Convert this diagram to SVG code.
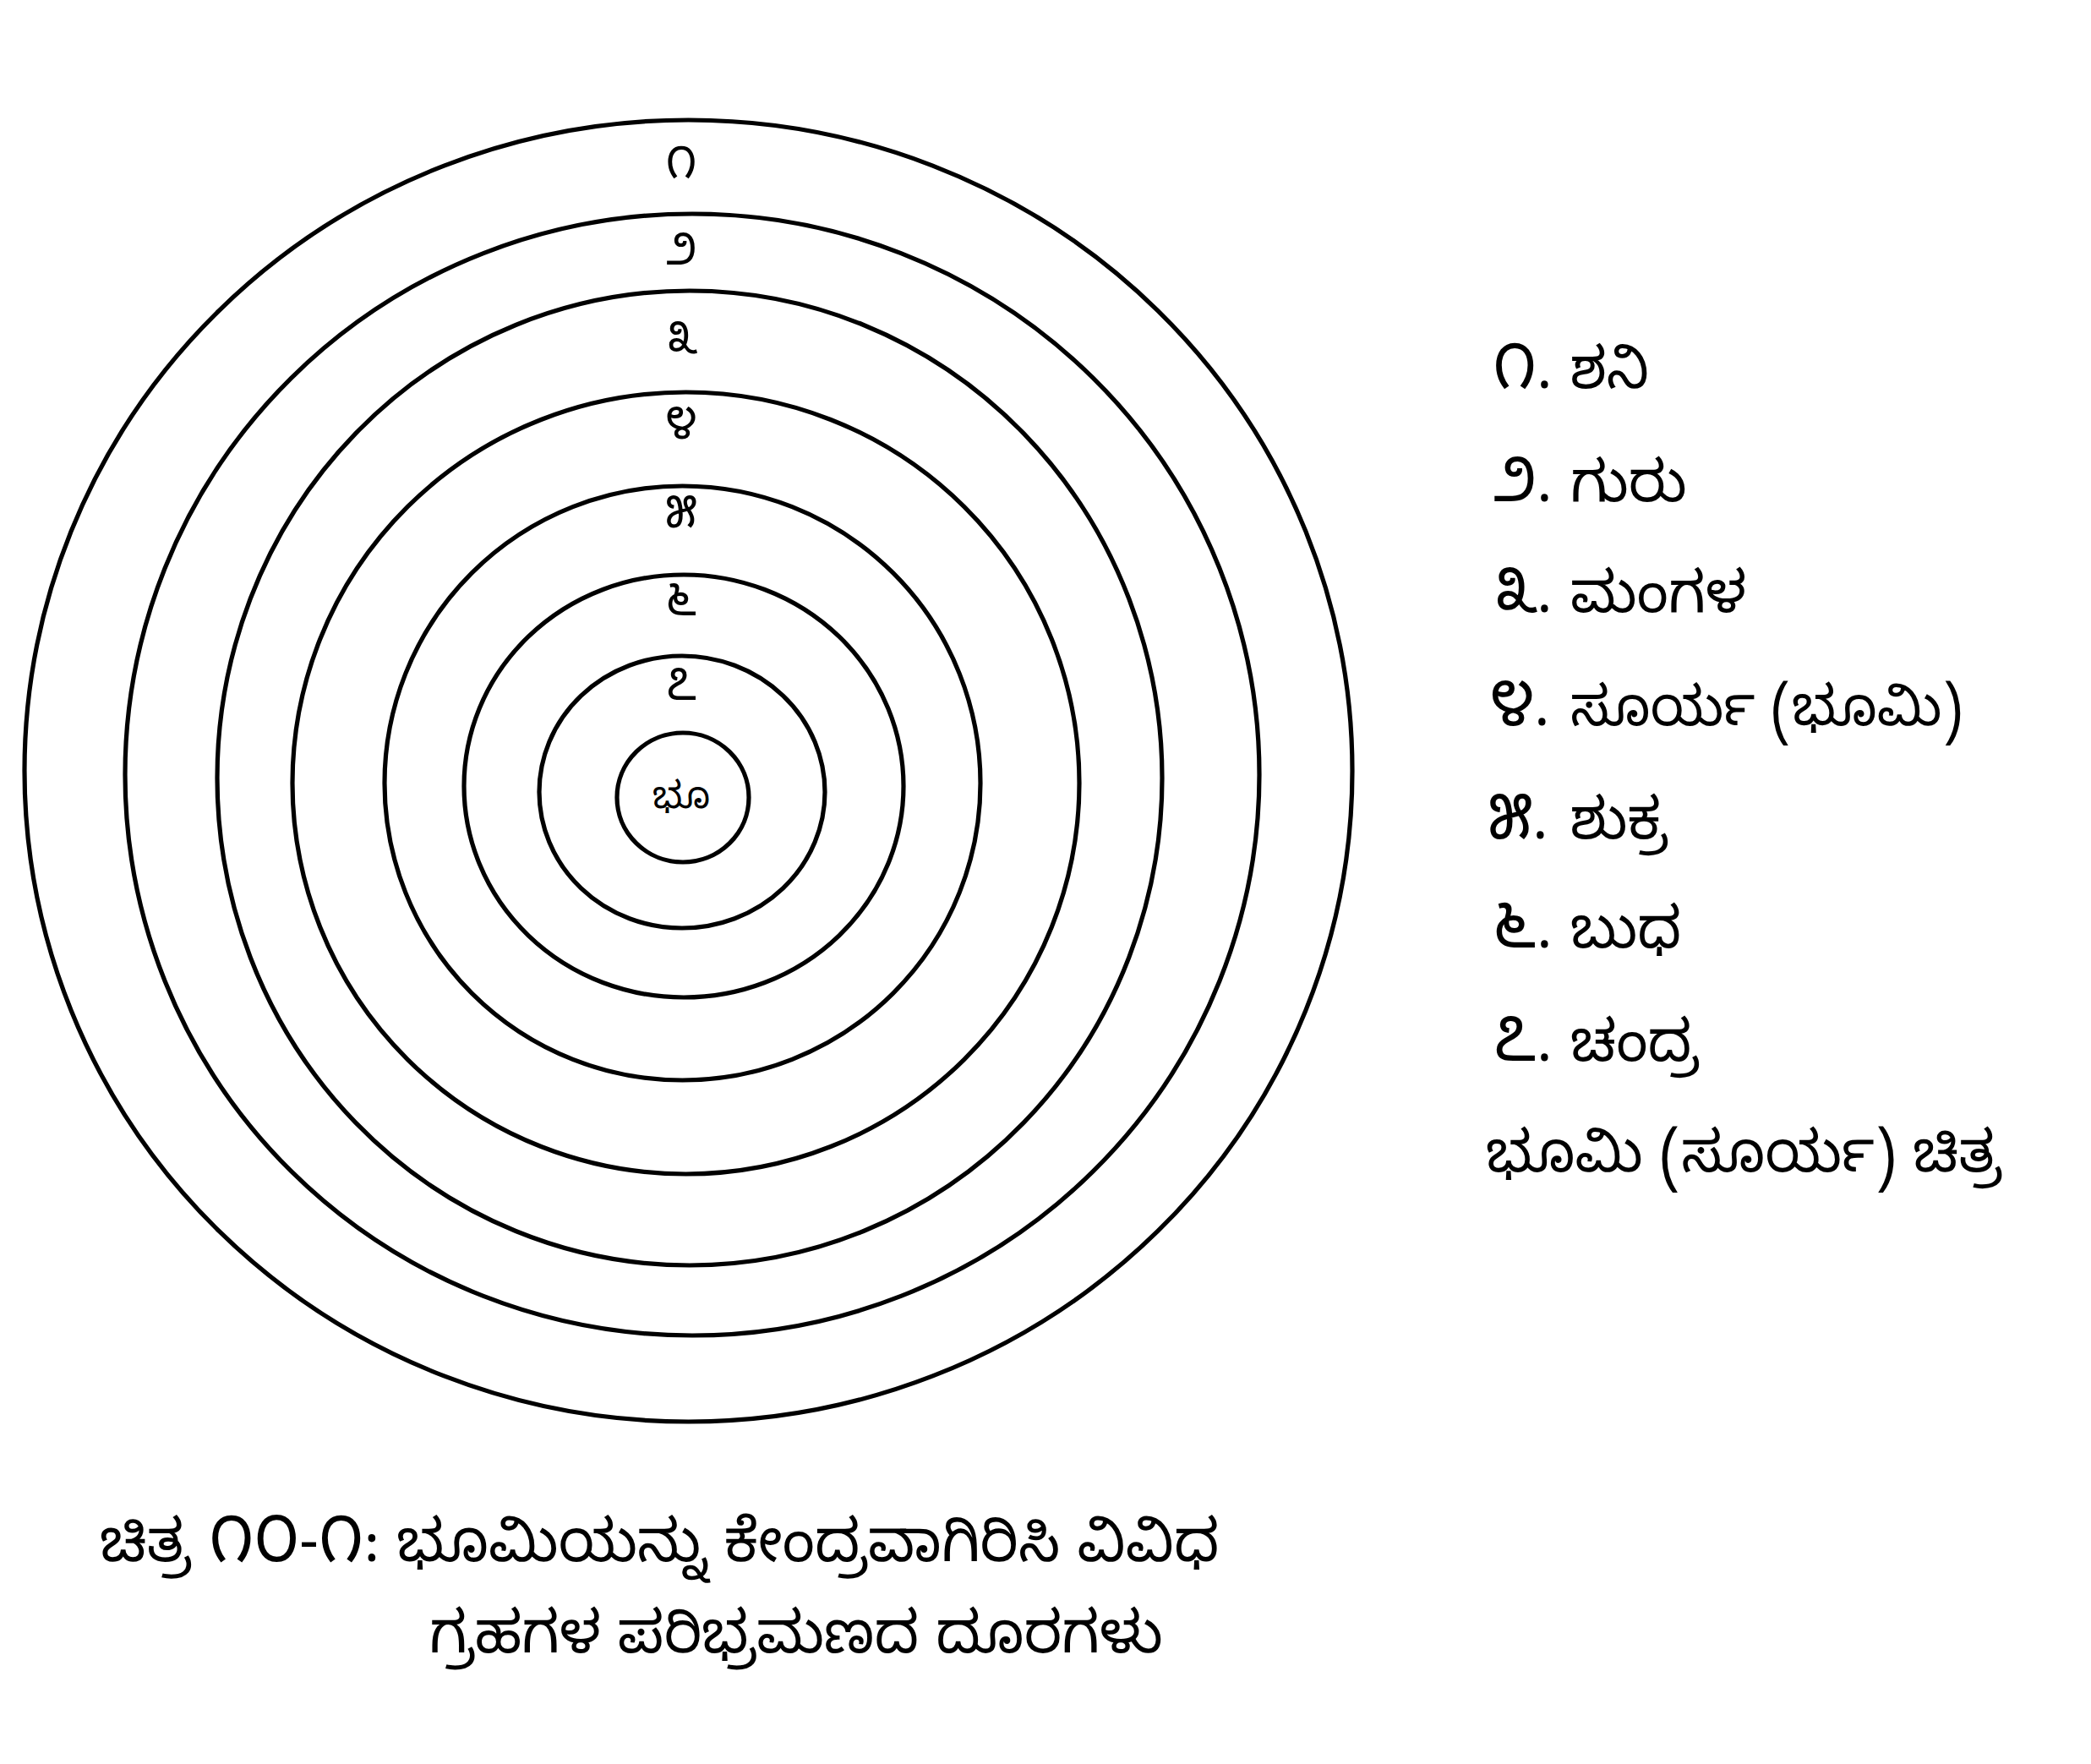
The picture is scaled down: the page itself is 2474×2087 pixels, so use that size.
<svg xmlns="http://www.w3.org/2000/svg" width="2474" height="2087" viewBox="0 0 2474 2087">
<style>
.orbit{fill:none;stroke:#000;stroke-width:5.2}
.kn{font-family:"Noto Sans Kannada","Noto Sans","DejaVu Sans",sans-serif;fill:#000}
.ring{font-size:54px;text-anchor:middle}
.leg{font-size:68px}
.num{font-size:76px}
.cap{font-size:70px}
.cnum{font-size:78px}
</style>
<rect width="2474" height="2087" fill="#fff"/>
<g id="orbits">
<ellipse class="orbit" cx="814.5" cy="912" rx="785.5" ry="770"/>
<ellipse class="orbit" cx="819" cy="916.5" rx="671" ry="663.5"/>
<ellipse class="orbit" cx="816" cy="920.5" rx="559" ry="576.5"/>
<ellipse class="orbit" cx="811.5" cy="926.5" rx="465.5" ry="462.5"/>
<ellipse class="orbit" cx="807.5" cy="926.5" rx="352.5" ry="351.5"/>
<ellipse class="orbit" cx="809" cy="930" rx="260" ry="250"/>
<ellipse class="orbit" cx="807" cy="937" rx="169" ry="161"/>
<ellipse class="orbit" cx="808" cy="943.5" rx="78" ry="76.5"/>
</g>
<g id="ring-labels" class="kn ring">
<text x="806" y="211">೧</text>
<text x="806" y="313">೨</text>
<text x="806" y="418">೩</text>
<text x="806" y="519">೪</text>
<text x="806" y="624">೫</text>
<text x="806" y="728">೬</text>
<text x="806" y="828">೭</text>
<text x="806" y="956" font-size="44">ಭೂ</text>
</g>
<g id="legend" class="kn leg">
<text x="1766" y="459"><tspan class="num">೧</tspan>.<tspan x="1858">ಶನಿ</tspan></text>
<text x="1766" y="593"><tspan class="num">೨</tspan>.<tspan x="1858">ಗುರು</tspan></text>
<text x="1766" y="724"><tspan class="num">೩</tspan>.<tspan x="1858">ಮಂಗಳ</tspan></text>
<text x="1763" y="858"><tspan class="num">೪</tspan>.<tspan x="1858" font-size="65">ಸೂರ್ಯ (ಭೂಮಿ)</tspan></text>
<text x="1761" y="992"><tspan class="num">೫</tspan>.<tspan x="1858">ಶುಕ್ರ</tspan></text>
<text x="1766" y="1121"><tspan class="num">೬</tspan>.<tspan x="1858">ಬುಧ</tspan></text>
<text x="1766" y="1255"><tspan class="num">೭</tspan>.<tspan x="1858">ಚಂದ್ರ</tspan></text>
<text x="1758" y="1386">ಭೂಮಿ (ಸೂರ್ಯ) ಚಿತ್ರ</text>
</g>
<g id="caption" class="kn cap">
<text x="118" y="1847">ಚಿತ್ರ <tspan class="cnum">೧೦</tspan>-<tspan class="cnum">೧</tspan>: ಭೂಮಿಯನ್ನು ಕೇಂದ್ರವಾಗಿರಿಸಿ ವಿವಿಧ</text>
<text x="508" y="1955" font-size="69">ಗ್ರಹಗಳ ಪರಿಭ್ರಮಣದ ದೂರಗಳು</text>
</g>
</svg>
